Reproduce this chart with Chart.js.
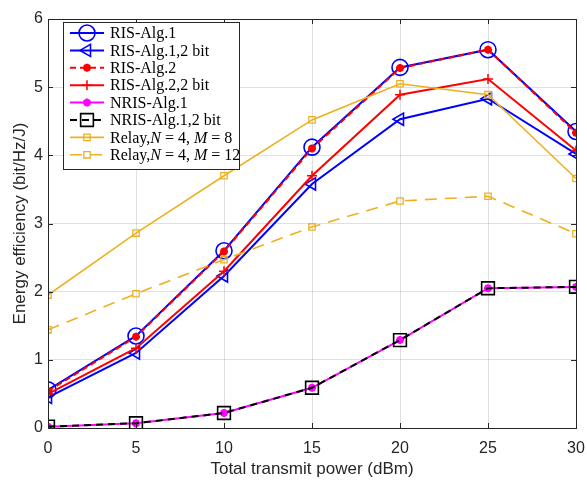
<!DOCTYPE html>
<html>
<head>
<meta charset="utf-8">
<script src="https://cdn.jsdelivr.net/npm/chart.js@4"></script>
<style>
  html, body { margin: 0; padding: 0; background: #fff; }
  #wrap { width: 587px; height: 486px; position: relative; }
</style>
</head>
<body>
<div id="wrap"><canvas id="graph"></canvas></div>
<script>
// transmit power in dBm
const power = [0, 5, 10, 15, 20, 25, 30];
const yTicks = [0, 1, 2, 3, 4, 5, 6];

const risAlg1 = [0.56, 1.35, 2.60, 4.12, 5.29, 5.55, 4.35];
const risAlg1Bit2 = [0.45, 1.10, 2.23, 3.58, 4.53, 4.83, 4.02];
const risAlg2 = [0.54, 1.34, 2.59, 4.10, 5.28, 5.55, 4.33];
const risAlg2Bit2 = [0.50, 1.17, 2.30, 3.70, 4.89, 5.12, 4.07];
const nrisAlg1 = [0.02, 0.07, 0.22, 0.59, 1.29, 2.05, 2.07];
const nrisAlg1Bit2 = [0.02, 0.07, 0.22, 0.59, 1.29, 2.05, 2.07];
const relayM8 = [1.95, 2.86, 3.70, 4.52, 5.05, 4.89, 3.66];
const relayM12 = [1.44, 1.97, 2.47, 2.95, 3.33, 3.40, 2.85];

// legend labels, [text, italic]
const labels = [
    [['RIS-Alg.1', false]],
    [['RIS-Alg.1,2 bit', false]],
    [['RIS-Alg.2', false]],
    [['RIS-Alg.2,2 bit', false]],
    [['NRIS-Alg.1', false]],
    [['NRIS-Alg.1,2 bit', false]],
    [['Relay,', false], ['N', true], [' = 4, ', false], ['M', true], [' = 8', false]],
    [['Relay,', false], ['N', true], [' = 4, ', false], ['M', true], [' = 12', false]]
];

const toXY = arr => arr.map((v, i) => ({ x: power[i], y: v }));
const orange = 'rgb(237,177,32)';

function series(data, color, opts) {
    return Object.assign({
        data: toXY(data),
        borderColor: color,
        backgroundColor: color,
        pointBorderColor: color,
        pointBackgroundColor: 'rgba(0,0,0,0)',
        borderWidth: 2,
        pointBorderWidth: 1.6,
        tension: 0,
        fill: false
    }, opts);
}

const datasets = [
    series(risAlg1, 'rgb(0,0,255)', { pointStyle: 'circle', pointRadius: 8, order: 8 }),
    series(risAlg1Bit2, 'rgb(0,0,255)', { pointStyle: 'triangle', pointRotation: -90, pointRadius: 7, order: 7 }),
    series(risAlg2, 'rgb(255,0,0)', { borderDash: [6, 4], pointStyle: 'star', pointRadius: 4, pointBorderWidth: 2.5, order: 6 }),
    series(risAlg2Bit2, 'rgb(255,0,0)', { pointStyle: 'cross', pointRadius: 5, pointBorderWidth: 1.5, order: 5 }),
    series(nrisAlg1, 'rgb(255,0,255)', { pointStyle: 'star', pointRadius: 4, pointBorderWidth: 2.5, order: 4 }),
    series(nrisAlg1Bit2, 'rgb(0,0,0)', { borderDash: [7, 5], pointStyle: 'rect', pointRadius: 9, order: 3 }),
    series(relayM8, orange, { pointStyle: 'rect', pointRadius: 4.5, borderWidth: 1.6, pointBorderWidth: 1.3, order: 2 }),
    series(relayM12, orange, { borderDash: [12, 8], pointStyle: 'rect', pointRadius: 4.5, borderWidth: 1.6, pointBorderWidth: 1.3, order: 1 })
];

const axisColor = '#262626';

// box, inward ticks and legend
const framePlugin = {
    id: 'frame',
    afterDatasetsDraw(chart) {
        const ctx = chart.ctx;
        const a = chart.chartArea;
        const xs = chart.scales.x, ys = chart.scales.y;
        ctx.save();
        ctx.strokeStyle = axisColor;
        ctx.lineWidth = 1;
        ctx.strokeRect(a.left + 0.5, a.top + 0.5, a.right - a.left, a.bottom - a.top);
        ctx.beginPath();
        power.forEach(p => {
            const x = Math.round(xs.getPixelForValue(p)) + 0.5;
            ctx.moveTo(x, a.bottom); ctx.lineTo(x, a.bottom - 5);
            ctx.moveTo(x, a.top); ctx.lineTo(x, a.top + 5);
        });
        yTicks.forEach(v => {
            const y = Math.round(ys.getPixelForValue(v)) + 0.5;
            ctx.moveTo(a.left, y); ctx.lineTo(a.left + 5, y);
            ctx.moveTo(a.right, y); ctx.lineTo(a.right - 5, y);
        });
        ctx.stroke();

        // legend
        const lx = 63, ly = 22, lw = 176, lh = 147;
        ctx.fillStyle = '#fff';
        ctx.fillRect(lx, ly, lw, lh);
        ctx.strokeStyle = axisColor;
        ctx.strokeRect(lx + 0.5, ly + 0.5, lw, lh);
        labels.forEach((parts, i) => {
            const ds = chart.data.datasets[i];
            const y = ly + 11 + i * 17.4;
            ctx.save();
            ctx.strokeStyle = ds.borderColor;
            ctx.lineWidth = ds.borderWidth;
            ctx.setLineDash(ds.borderDash || []);
            ctx.beginPath();
            ctx.moveTo(70, y); ctx.lineTo(104, y);
            ctx.stroke();
            ctx.setLineDash([]);
            ctx.strokeStyle = ds.pointBorderColor;
            ctx.fillStyle = ds.pointBackgroundColor;
            ctx.lineWidth = ds.pointBorderWidth;
            Chart.helpers.drawPoint(ctx, {
                pointStyle: ds.pointStyle,
                radius: ds.pointRadius,
                rotation: ds.pointRotation || 0,
                borderWidth: ds.pointBorderWidth
            }, 87, y);
            ctx.restore();
            let tx = 110;
            ctx.fillStyle = '#000';
            ctx.textBaseline = 'middle';
            parts.forEach(([t, it]) => {
                ctx.font = (it ? 'italic ' : '') + '16px "Liberation Serif", "DejaVu Serif", serif';
                ctx.fillText(t, tx, y + 1);
                tx += ctx.measureText(t).width;
            });
        });
        ctx.restore();
    }
};

new Chart(document.getElementById('graph'), {
    type: 'line',
    data: { datasets: datasets },
    options: {
        responsive: true,
        maintainAspectRatio: false,
        animation: false,
        layout: { padding: { left: 0, right: 11, top: 19, bottom: 0 } },
        plugins: { legend: { display: false }, tooltip: { enabled: false } },
        scales: {
            x: {
                type: 'linear',
                min: 0, max: 30,
                afterBuildTicks: s => { s.ticks = power.map(v => ({ value: v })); },
                afterFit: s => { s.height = 58; s.paddingLeft = 0; s.paddingRight = 0; },
                grid: { color: 'rgba(0,0,0,0.12)', drawTicks: false, tickLength: 0 },
                border: { display: false },
                ticks: { color: axisColor, padding: 11, maxRotation: 0, font: { family: 'Liberation Sans, Arial, sans-serif', size: 16 } },
                title: { display: true, text: 'Total transmit power (dBm)', color: axisColor, padding: { top: 2, bottom: 6 }, font: { family: 'Liberation Sans, Arial, sans-serif', size: 17 } }
            },
            y: {
                min: 0, max: 6,
                afterBuildTicks: s => { s.ticks = yTicks.map(v => ({ value: v })); },
                afterFit: s => { s.width = 48; },
                grid: { color: 'rgba(0,0,0,0.12)', drawTicks: false, tickLength: 0 },
                border: { display: false },
                ticks: { color: axisColor, padding: 5, font: { family: 'Liberation Sans, Arial, sans-serif', size: 16 } },
                title: { display: true, text: 'Energy efficiency (bit/Hz/J)', color: axisColor, padding: { top: 10, bottom: 2 }, font: { family: 'Liberation Sans, Arial, sans-serif', size: 17 } }
            }
        }
    },
    plugins: [framePlugin]
});
</script>
</body>
</html>
